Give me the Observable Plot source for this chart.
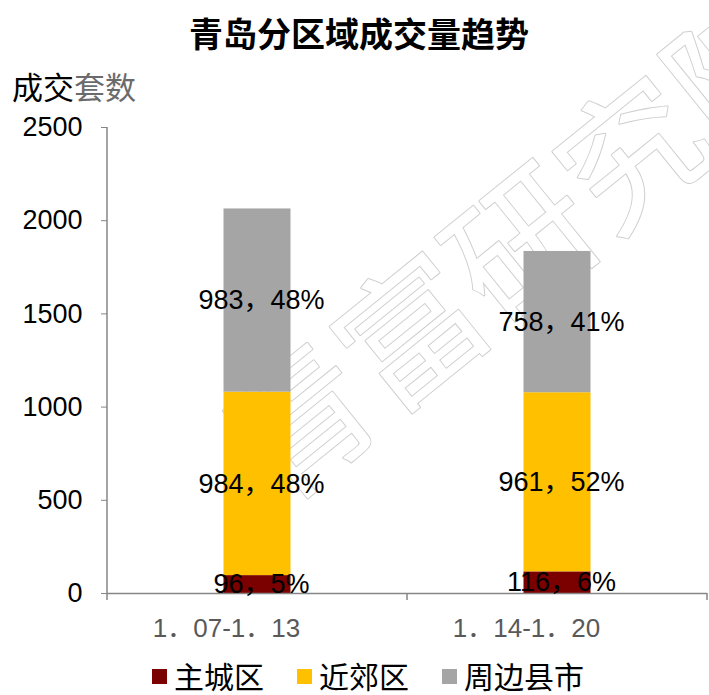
<!DOCTYPE html>
<html>
<head>
<meta charset="utf-8">
<script src="https://cdn.jsdelivr.net/npm/d3@7"></script>
<script src="https://cdn.jsdelivr.net/npm/@observablehq/plot@0.6"></script>
<style>
  html, body { margin: 0; padding: 0; background: #fff; }
  #wrap { position: relative; width: 709px; height: 695px; overflow: hidden; font-family: "Noto Sans CJK SC", sans-serif; }
  #chart { position: absolute; left: 0; top: 0; }
  #title { position: absolute; left: 0; top: 12px; width: 718px; text-align: center; font-size: 34px; font-weight: bold; line-height: 42px; color: #000; }
  #ylab { position: absolute; left: 12px; top: 67px; font-size: 31px; line-height: 38px; color: #000; }
  #ylab .g { color: #6b6b6b; }
  #legend { position: absolute; left: 0; top: 657px; width: 736px; display: flex; justify-content: center; gap: 33px; font-size: 30px; line-height: 36px; color: #000; }
  #legend .item { display: flex; align-items: center; }
  #legend .sw { width: 15px; height: 15px; margin-right: 7px; margin-top: 3px; }
</style>
</head>
<body>
<div id="wrap">
  <div id="chart"></div>
  <div id="title"></div>
  <div id="ylab"><span>成交</span><span class="g">套数</span></div>
  <div id="legend"></div>
</div>
<script>
const titleText = "青岛分区域成交量趋势";
const watermark = "青富研究院";
const weeks = ["1．07-1．13", "1．14-1．20"];
const zones = ["主城区", "近郊区", "周边县市"];
const zoneColors = ["#7B0000", "#FFC000", "#A5A5A5"];
const mainCity = [96, 116];
const suburb = [984, 961];
const county = [983, 758];
const yTicks = [0, 500, 1000, 1500, 2000, 2500];

const series = [mainCity, suburb, county];
const totals = weeks.map((w, i) => series.reduce((s, arr) => s + arr[i], 0));
const rows = [];
zones.forEach((z, zi) => weeks.forEach((w, wi) => rows.push({week: w, zone: z, value: series[zi][wi], pct: Math.round(series[zi][wi] / totals[wi] * 100)})));

document.getElementById("title").textContent = titleText;

const numFont = "'Liberation Sans', 'Noto Sans CJK SC', sans-serif";

const plot = Plot.plot({
  width: 709,
  height: 695,
  marginTop: 127,
  marginBottom: 102,
  marginLeft: 107,
  marginRight: 2,
  style: {background: "transparent", overflow: "visible"},
  x: {domain: weeks, padding: 0, label: null},
  y: {domain: [0, 2500], label: null},
  color: {domain: zones, range: zoneColors},
  marks: [
    Plot.text([watermark], {frameAnchor: "middle", text: d => d, dx: 118, dy: -112, rotate: -39, fontSize: 142, fontWeight: "normal", fill: "white", stroke: "#cfcfcf", strokeWidth: 2, fontFamily: "'Noto Sans CJK SC', sans-serif"}),
    Plot.barY(rows, {x: "week", y: "value", fill: "zone", insetLeft: 116.5, insetRight: 116.5}),
    Plot.ruleY([0], {stroke: "#868686", strokeWidth: 1.5}),
    Plot.text(rows, Plot.stackY({x: "week", y: "value", text: d => `${d.value}，${d.pct}%`, fontSize: 27, fill: "black", fontFamily: numFont, dx: 4})),
    Plot.axisY({ticks: yTicks, tickFormat: "d", tickSize: 6, tickPadding: 19, fontSize: 27, stroke: "#868686", fill: "black", fontFamily: numFont, label: null}),
    Plot.axisX({tickSize: 0, tickPadding: 25, dx: -31, fontSize: 26, fill: "#595959", fontFamily: numFont, label: null})
  ]
});

// y-axis line and band-edge ticks, using the plot's own scales
const sx = plot.scale("x"), sy = plot.scale("y");
const y0 = sy.apply(0), yTop = sy.apply(yTicks[yTicks.length - 1]);
const edges = weeks.map(w => sx.apply(w)).concat([sx.apply(weeks[weeks.length - 1]) + sx.bandwidth]);
const g = d3.select(plot).append("g").attr("stroke", "#868686").attr("stroke-width", 1.5);
g.append("line").attr("x1", edges[0]).attr("x2", edges[0]).attr("y1", yTop).attr("y2", y0);
edges.forEach(x => g.append("line").attr("x1", x).attr("x2", x).attr("y1", y0).attr("y2", y0 + 7));

document.getElementById("chart").appendChild(plot);

const legend = d3.select("#legend");
zones.forEach((z, i) => {
  const it = legend.append("div").attr("class", "item");
  it.append("div").attr("class", "sw").style("background", zoneColors[i]);
  it.append("span").text(z);
});
</script>
</body>
</html>
